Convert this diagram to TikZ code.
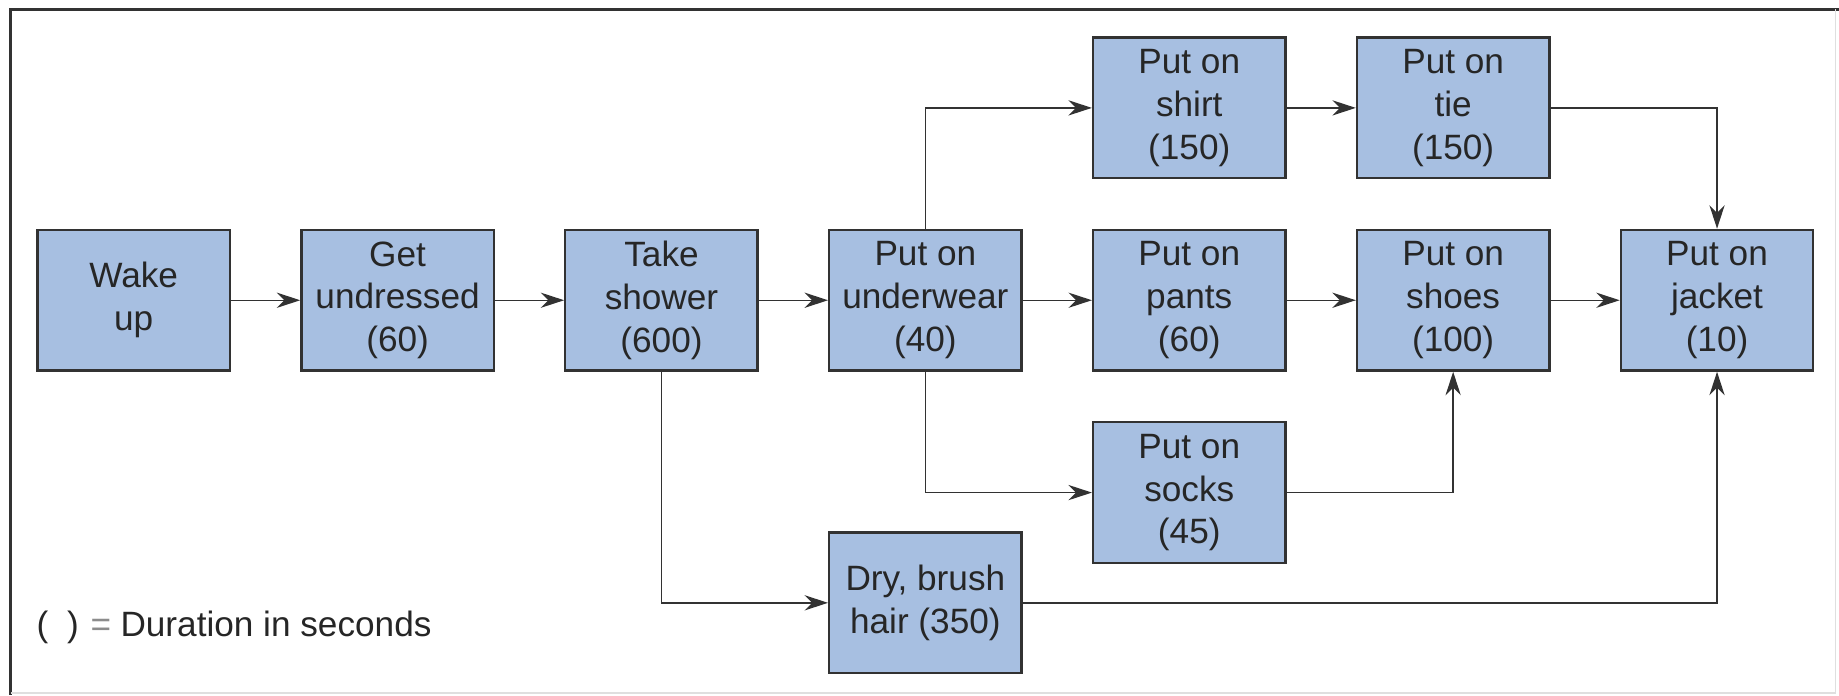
\documentclass[tikz,border=0pt]{standalone}
\usepackage{fontspec}
\setmainfont{Liberation Sans}
\usepackage{tikz}
\usetikzlibrary{positioning,arrows.meta}
\definecolor{boxblue}{RGB}{167,191,225}
\definecolor{linegray}{RGB}{50,50,50}

\begin{document}
\begin{tikzpicture}[x=0.5pt, y=-0.5pt, node distance={112.5pt}, semithick, draw=linegray, >={Stealth[length=10pt,width=6.5pt]}, main/.style = {draw=linegray, line width=1pt, fill=boxblue, text=black!85, minimum width=82pt, minimum height=60pt, inner sep=0pt, align=center, font=\fontsize{15}{18.25}\selectfont}] 

\useasboundingbox (0,0) rectangle (1568,593);
\draw[line width=1.3pt, linegray] (1568,8) -- (9,8) -- (9,593);
\draw[line width=0.8pt, gray!25] (1565,8) -- (1565,591) -- (9,591);

\node[main] (1) at (114,256) {Wake\\up};
\node[main] (2) [right of=1] {Get\\undressed\\(60)};
\node[main] (3) [right of=2] {Take\\shower\\(600)};
\node[main] (4) [right of=3] {Put on\\underwear\\(40)};
\node[main] (5) [right of=4] {Put on\\pants\\(60)};
\node[main] (6) [right of=5] {Put on\\shoes\\(100)};
\node[main] (7) [right of=6] {Put on\\jacket\\(10)};
\node[main] (8) [above of=5, node distance=82pt] {Put on\\shirt\\(150)};
\node[main] (9) [above of=6, node distance=82pt] {Put on\\tie\\(150)};
\node[main] (10) [below of=5, node distance=82pt] {Put on\\socks\\(45)};
\node[main] (11) [below of=4, node distance=129pt] {Dry, brush\\hair (350)};
\node[anchor=west, text=black!85, font=\fontsize{15}{18.25}\selectfont] (12) at (24,535) {(\hspace{8pt})\hspace{5pt}{\color{black!45}=}\hspace{4pt}Duration in seconds};

\draw[->] (1) -- (2);
\draw[->] (2) -- (3);
\draw[->] (3) -- (4);
\draw[->] (4) -- (5);
\draw[->] (5) -- (6);
\draw[->] (6) -- (7);
\draw[->] (8) -- (9);
\draw[->] (4.north) |- (8.west);
\draw[->] (9.east) -| (7.north);
\draw[->] (4.south) |- (10.west);
\draw[->] (10.east) -| (6.south);
\draw[->] (3.south) |- (11.west);
\draw[->] (11.east) -| (7.south);

\end{tikzpicture}
\end{document}
